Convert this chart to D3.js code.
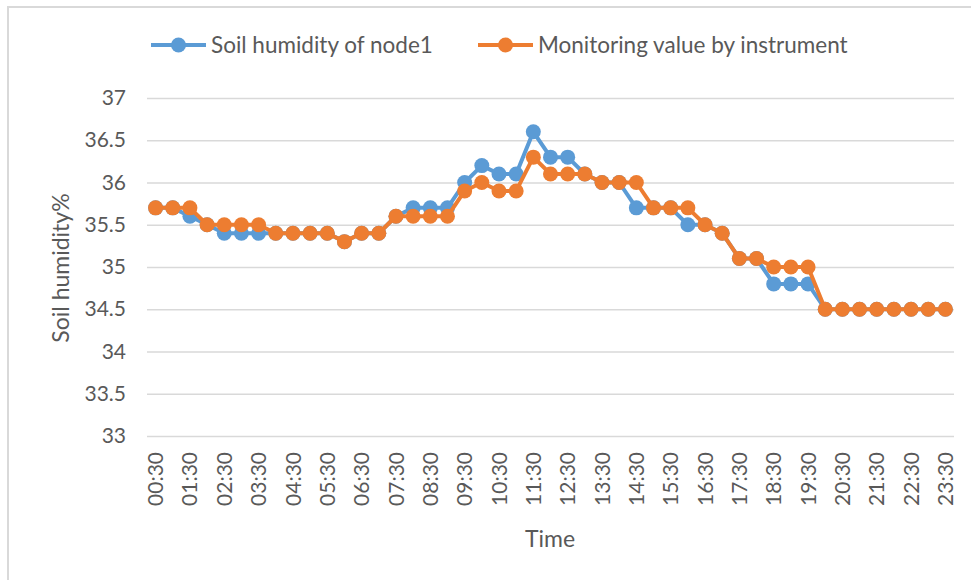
<!DOCTYPE html>
<html>
<head>
<meta charset="utf-8">
<script src="https://cdn.jsdelivr.net/npm/d3@7"></script>
<style>
  body { margin: 0; background: #fff; }
  text { font-family: Lato, "Open Sans", sans-serif; fill: #595959; }
</style>
</head>
<body>
<div id="chart"></div>
<script>
// Data
const times = [
  "00:30","01:00","01:30","02:00","02:30","03:00","03:30","04:00","04:30","05:00",
  "05:30","06:00","06:30","07:00","07:30","08:00","08:30","09:00","09:30","10:00",
  "10:30","11:00","11:30","12:00","12:30","13:00","13:30","14:00","14:30","15:00",
  "15:30","16:00","16:30","17:00","17:30","18:00","18:30","19:00","19:30","20:00",
  "20:30","21:00","21:30","22:00","22:30","23:00","23:30"
];
const node1 = [
  35.7,35.7,35.6,35.5,35.4,35.4,35.4,35.4,35.4,35.4,
  35.4,35.3,35.4,35.4,35.6,35.7,35.7,35.7,36.0,36.2,
  36.1,36.1,36.6,36.3,36.3,36.1,36.0,36.0,35.7,35.7,
  35.7,35.5,35.5,35.4,35.1,35.1,34.8,34.8,34.8,34.5,
  34.5,34.5,34.5,34.5,34.5,34.5,34.5
];
const instrument = [
  35.7,35.7,35.7,35.5,35.5,35.5,35.5,35.4,35.4,35.4,
  35.4,35.3,35.4,35.4,35.6,35.6,35.6,35.6,35.9,36.0,
  35.9,35.9,36.3,36.1,36.1,36.1,36.0,36.0,36.0,35.7,
  35.7,35.7,35.5,35.4,35.1,35.1,35.0,35.0,35.0,34.5,
  34.5,34.5,34.5,34.5,34.5,34.5,34.5
];
const yTicks = [33, 33.5, 34, 34.5, 35, 35.5, 36, 36.5, 37];
const seriesNames = ["Soil humidity of node1", "Monitoring value by instrument"];
const colors = ["#5b9bd5", "#ed7d31"];

const width = 971, height = 580;
const plot = {left: 147, right: 954, top: 98, bottom: 436};

const svg = d3.select("#chart").append("svg")
    .attr("width", width)
    .attr("height", height);

// chart frame
svg.append("rect")
    .attr("x", 8).attr("y", 7)
    .attr("width", width).attr("height", height)
    .attr("fill", "none")
    .attr("stroke", "#d9d9d9")
    .attr("stroke-width", 2);

const x = d3.scaleBand().domain(times).range([plot.left, plot.right]);
const cx = d => x(d) + x.bandwidth() / 2;
const y = d3.scaleLinear().domain([33, 37]).range([plot.bottom, plot.top]);

// gridlines + y labels
const yAxis = svg.append("g")
    .attr("transform", `translate(${plot.left},0)`)
    .call(d3.axisLeft(y).tickValues(yTicks).tickSize(-(plot.right - plot.left)).tickPadding(21).tickFormat(d3.format("")));
yAxis.select(".domain").remove();
yAxis.selectAll(".tick line").attr("stroke", "#d9d9d9").attr("stroke-width", 1.5);
yAxis.selectAll(".tick text")
    .style("font-size", "21px")
    .style("fill", "#595959");

// x labels, every hour
const xAxis = svg.append("g")
    .attr("transform", `translate(0,${plot.bottom})`)
    .call(d3.axisBottom(x).tickValues(times.filter((d, i) => i % 2 === 0)).tickSize(0).tickPadding(0));
xAxis.select(".domain").remove();
xAxis.selectAll(".tick text")
    .attr("transform", "translate(0,16) rotate(-90)")
    .attr("text-anchor", "end")
    .attr("x", 0).attr("y", 0).attr("dy", "0.36em")
    .style("font-size", "21px")
    .style("fill", "#595959");

// series
const line = d3.line().x((d, i) => cx(times[i])).y(d => y(d));
[node1, instrument].forEach((vals, k) => {
  const g = svg.append("g");
  g.append("path")
      .datum(vals)
      .attr("fill", "none")
      .attr("stroke", colors[k])
      .attr("stroke-width", 4)
      .attr("stroke-linejoin", "round")
      .attr("d", line);
  g.selectAll("circle")
      .data(vals)
      .enter().append("circle")
      .attr("cx", (d, i) => cx(times[i]))
      .attr("cy", d => y(d))
      .attr("r", 7.5)
      .attr("fill", colors[k]);
});

// axis titles
svg.append("text")
    .attr("transform", "translate(69,268) rotate(-90)")
    .attr("text-anchor", "middle")
    .style("font-size", "23px")
    .text("Soil humidity%");

svg.append("text")
    .attr("x", 550).attr("y", 547)
    .attr("text-anchor", "middle")
    .style("font-size", "23px")
    .text("Time");

// legend
const legendX = [151, 478];
seriesNames.forEach((name, k) => {
  const g = svg.append("g").attr("transform", `translate(${legendX[k]},45)`);
  g.append("line")
      .attr("x1", 0).attr("x2", 55)
      .attr("stroke", colors[k]).attr("stroke-width", 4);
  g.append("circle").attr("cx", 27.5).attr("r", 7.5).attr("fill", colors[k]);
  g.append("text")
      .attr("x", 60).attr("dy", "0.36em")
      .style("font-size", "22.5px")
      .text(name);
});
</script>
</body>
</html>
